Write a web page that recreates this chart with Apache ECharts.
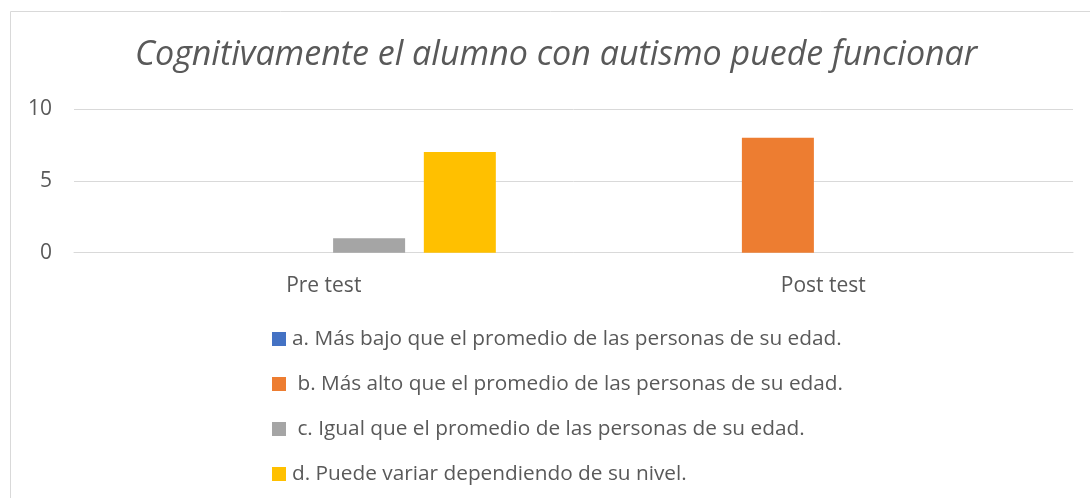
<!DOCTYPE html>
<html>
<head>
<meta charset="utf-8">
<script src="https://cdn.jsdelivr.net/npm/echarts@6/dist/echarts.min.js"></script>
<style>
  html, body { margin: 0; padding: 0; background: #fff; }
  #chart { width: 1090px; height: 498px; }
</style>
</head>
<body>
<div id="chart"></div>
<script>
const categories = ['Pre test', 'Post test']
const seriesNames = [
  'a. Más bajo que el promedio de las personas de su edad.',
  ' b. Más alto que el promedio de las personas de su edad.',
  ' c. Igual que el promedio de las personas de su edad.',
  'd. Puede variar dependiendo de su nivel.'
]
const valuesA = [0, 0]
const valuesB = [0, 8]
const valuesC = [1, 0]
const valuesD = [7, 0]
const colors = ['#4472C4', '#ED7D31', '#A5A5A5', '#FFC000']

const allValues = [valuesA, valuesB, valuesC, valuesD]
const textColor = '#595959'
const font = '"Open Sans", "DejaVu Sans", sans-serif'

const myChart = echarts.init(document.getElementById('chart'))

const series = seriesNames.map((name, i) => ({
  name: name,
  type: 'bar',
  data: allValues[i],
  barWidth: 72,
  barGap: '26%',
  itemStyle: {color: colors[i]}
}))

myChart.setOption({
  animation: false,
  color: colors,
  graphic: [{
    type: 'rect',
    shape: {x: 10.5, y: 11.5, width: 1100, height: 520},
    style: {fill: 'none', stroke: '#D9D9D9', lineWidth: 1},
    silent: true
  }],
  title: {
    text: 'Cognitivamente el alumno con autismo puede funcionar',
    left: 135,
    top: 38,
    padding: 0,
    textStyle: {
      fontFamily: font,
      fontStyle: 'italic',
      fontWeight: 'normal',
      fontSize: 34,
      color: textColor
    }
  },
  grid: {left: 74, right: 17, top: 109, bottom: 245.3, containLabel: false},
  xAxis: {
    type: 'category',
    data: categories,
    axisTick: {show: false},
    axisLine: {lineStyle: {color: '#D9D9D9', width: 1}},
    axisLabel: {color: textColor, fontFamily: font, fontSize: 21, margin: 23}
  },
  yAxis: {
    type: 'value',
    min: 0,
    max: 10,
    interval: 5,
    axisLine: {show: false},
    axisTick: {show: false},
    splitLine: {lineStyle: {color: '#D9D9D9', width: 1}},
    axisLabel: {color: textColor, fontFamily: font, fontSize: 21, margin: 22}
  },
  legend: {
    orient: 'vertical',
    left: 272,
    top: 328,
    padding: 0,
    itemWidth: 14,
    itemHeight: 14,
    itemGap: 23,
    icon: 'rect',
    textStyle: {color: textColor, fontFamily: font, fontSize: 20.8, lineHeight: 22, padding: [0, 0, 0, 1]}
  },
  series: series
})
</script>
</body>
</html>
